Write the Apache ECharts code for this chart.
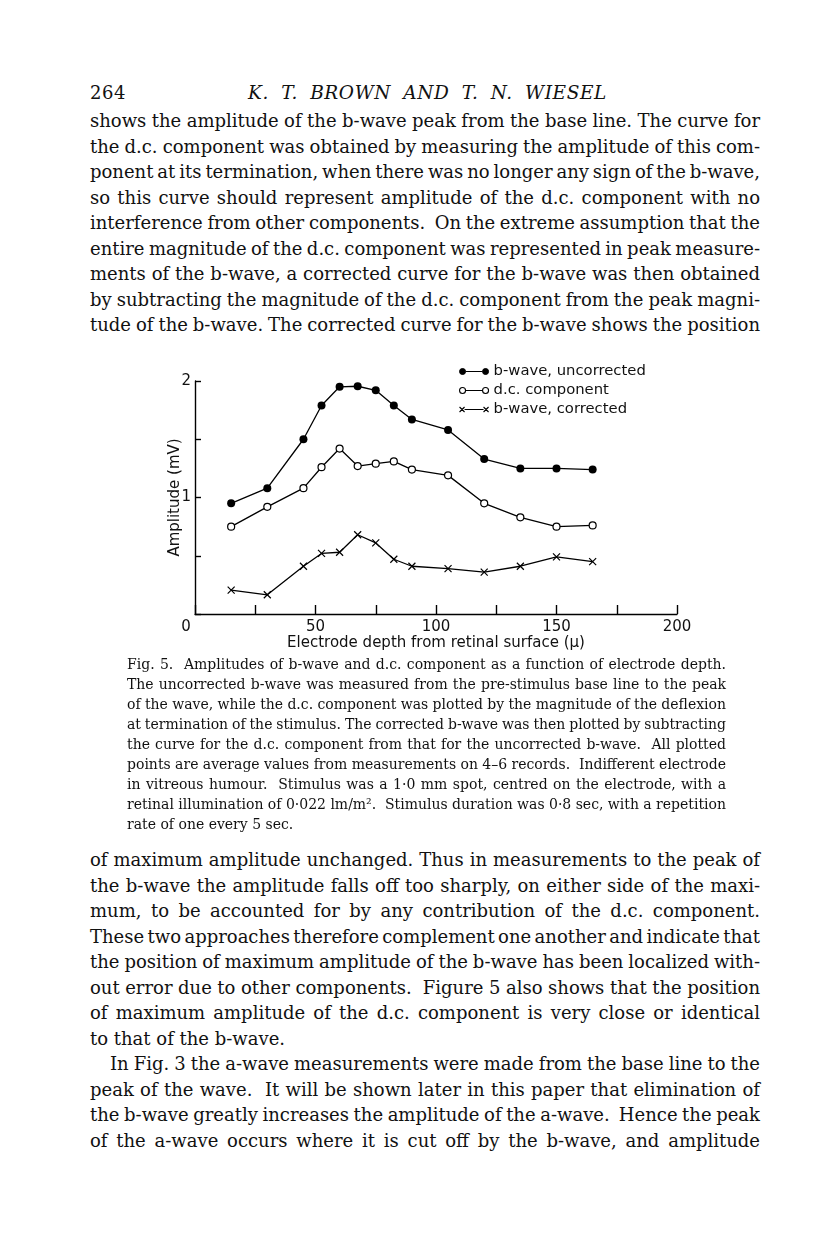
<!DOCTYPE html>
<html><head><meta charset="utf-8">
<script src="https://cdn.jsdelivr.net/npm/echarts@6/dist/echarts.min.js"></script>
<style>
html,body{margin:0;padding:0;background:#fff;}
#page{position:relative;width:816px;height:1248px;overflow:hidden;background:#fff;}
.ln{position:absolute;white-space:pre;color:#111;font-family:"DejaVu Serif",serif;}
#chart{position:absolute;left:0;top:340px;width:816px;height:320px;}
</style></head><body><div id="page"><div id="chart"></div></div>
<script>
// ---- chart data ----
const depth = [15, 30, 45, 52.5, 60, 67.5, 75, 82.5, 90, 105, 120, 135, 150, 165];
const bUncorrected = [0.95, 1.08, 1.50, 1.79, 1.95, 1.955, 1.92, 1.79, 1.67, 1.58, 1.33, 1.25, 1.25, 1.24];
const dcComponent = [0.75, 0.92, 1.08, 1.26, 1.42, 1.27, 1.29, 1.31, 1.24, 1.19, 0.95, 0.83, 0.75, 0.76];
const bCorrected = [0.205, 0.165, 0.41, 0.52, 0.53, 0.68, 0.61, 0.47, 0.41, 0.39, 0.36, 0.41, 0.49, 0.45];
const seriesNames = ['b-wave, uncorrected', 'd.c. component', 'b-wave, corrected'];
const xLabels = [0, 50, 100, 150, 200];
const yLabels = [1, 2];
const xTitle = 'Electrode depth from retinal surface (\u03bc)';
const yTitle = 'Amplitude (mV)';

// ---- page text ----
const headerNum = '264';
const headerTitle = 'K. T. BROWN AND T. N. WIESEL';
const topLines = [
 'shows the amplitude of the b-wave peak from the base line. The curve for',
 'the d.c. component was obtained by measuring the amplitude of this com-',
 'ponent at its termination, when there was no longer any sign of the b-wave,',
 'so this curve should represent amplitude of the d.c. component with no',
 'interference from other components.  On the extreme assumption that the',
 'entire magnitude of the d.c. component was represented in peak measure-',
 'ments of the b-wave, a corrected curve for the b-wave was then obtained',
 'by subtracting the magnitude of the d.c. component from the peak magni-',
 'tude of the b-wave. The corrected curve for the b-wave shows the position'
];
const captionLines = [
 'Fig. 5.  Amplitudes of b-wave and d.c. component as a function of electrode depth.',
 'The uncorrected b-wave was measured from the pre-stimulus base line to the peak',
 'of the wave, while the d.c. component was plotted by the magnitude of the deflexion',
 'at termination of the stimulus. The corrected b-wave was then plotted by subtracting',
 'the curve for the d.c. component from that for the uncorrected b-wave.  All plotted',
 'points are average values from measurements on 4\u20136 records.  Indifferent electrode',
 'in vitreous humour.  Stimulus was a 1\u00b70 mm spot, centred on the electrode, with a',
 'retinal illumination of 0\u00b7022 lm/m\u00b2.  Stimulus duration was 0\u00b78 sec, with a repetition',
 'rate of one every 5 sec.'
];
const bottomLines = [
 'of maximum amplitude unchanged. Thus in measurements to the peak of',
 'the b-wave the amplitude falls off too sharply, on either side of the maxi-',
 'mum, to be accounted for by any contribution of the d.c. component.',
 'These two approaches therefore complement one another and indicate that',
 'the position of maximum amplitude of the b-wave has been localized with-',
 'out error due to other components.  Figure 5 also shows that the position',
 'of maximum amplitude of the d.c. component is very close or identical',
 'to that of the b-wave.',
 'In Fig. 3 the a-wave measurements were made from the base line to the',
 'peak of the wave.  It will be shown later in this paper that elimination of',
 'the b-wave greatly increases the amplitude of the a-wave.  Hence the peak',
 'of the a-wave occurs where it is cut off by the b-wave, and amplitude'
];

const page = document.getElementById('page');
function place(text, x, yc, w, size, lh, italic, ls){
  const d = document.createElement('div');
  d.className = 'ln';
  d.textContent = text;
  d.style.left = x + 'px';
  d.style.top = (yc - lh / 2) + 'px';
  d.style.fontSize = size + 'px';
  d.style.lineHeight = lh + 'px';
  if (italic) d.style.fontStyle = 'italic';
  if (ls) d.style.letterSpacing = ls + 'px';
  page.appendChild(d);
  if (w) {
    const nat = d.getBoundingClientRect().width;
    const sp = (text.match(/ /g) || []).length;
    if (sp) d.style.wordSpacing = ((w - nat) / sp) + 'px';
  }
}
const BL = 90, BW = 670;
place(headerNum, BL, 93, 0, 18, 22, false, 0.5);
place(headerTitle, 248, 93, 359, 18.5, 22, true, 0.6);
topLines.forEach((t, i) => place(t, BL, 121 + 25.5 * i, BW, 18, 24, false));
captionLines.forEach((t, i) => place(t, 127, 664 + 20 * i, i === captionLines.length - 1 ? 0 : 599, 14, 19, false));
bottomLines.forEach((t, i) => {
  const indent = (i === 8) ? 20 : 0;
  const justify = !(i === 7);
  place(t, BL + indent, 860 + 25.5 * i, justify ? BW - indent : 0, 18, 24, false);
});

// ---- chart ----
const FONT = 'DejaVu Sans';
const chart = echarts.init(document.getElementById('chart'), null, {renderer: 'canvas'});
const circlePath = 'path://M0,3.5A3,3 0 1,0 6,3.5A3,3 0 1,0 0,3.5ZM6,3.5L23,3.5M23,3.5A3,3 0 1,0 29,3.5A3,3 0 1,0 23,3.5Z';
const crossPath = 'path://M0,1L5,6M5,1L0,6M5,3.5L24,3.5M24,1L29,6M29,1L24,6';
const mk = arr => depth.map((d, i) => [d, arr[i]]);
const lineStyle = {color: '#000', width: 1.3};
chart.setOption({
  animation: false,
  grid: {left: 195, right: 139, top: 41, bottom: 46},
  legend: {
    orient: 'vertical', left: 454, top: 18, itemWidth: 29, itemHeight: 7, itemGap: 2,
    selectedMode: false,
    textStyle: {fontFamily: FONT, fontSize: 14.8, color: '#111', lineHeight: 17},
    data: [
      {name: seriesNames[0], icon: circlePath, itemStyle: {color: '#000', borderColor: '#000', borderWidth: 1}},
      {name: seriesNames[1], icon: circlePath, itemStyle: {color: '#fff', borderColor: '#000', borderWidth: 1.1}},
      {name: seriesNames[2], icon: crossPath, itemStyle: {color: '#000', borderColor: '#000', borderWidth: 1.1}}
    ]
  },
  xAxis: {
    type: 'value', min: 0, max: 200, interval: 25,
    axisLine: {lineStyle: {color: '#000', width: 1.4}},
    axisTick: {inside: true, length: 9, lineStyle: {color: '#000', width: 1.4}},
    splitLine: {show: false},
    axisLabel: {
      color: '#111', fontFamily: FONT, fontSize: 15, margin: 6,
      formatter: v => xLabels.indexOf(v) < 0 ? '' : (v === 0 ? '{z|0}' : String(v)),
      rich: {z: {fontFamily: FONT, fontSize: 15, color: '#111', padding: [0, 18, 0, 0]}}
    },
    name: xTitle, nameLocation: 'middle', nameGap: 22, nameMoveOverlap: false,
    nameTextStyle: {fontFamily: FONT, fontSize: 15, color: '#111'}
  },
  yAxis: {
    type: 'value', min: 0, max: 2, interval: 0.5,
    axisLine: {show: true, lineStyle: {color: '#000', width: 1.4}},
    axisTick: {show: true, inside: true, length: 6, lineStyle: {color: '#000', width: 1.4}},
    splitLine: {show: false},
    axisLabel: {
      color: '#111', fontFamily: FONT, fontSize: 15, margin: 4,
      formatter: v => yLabels.indexOf(v) < 0 ? '' : String(v)
    },
    name: yTitle, nameLocation: 'middle', nameGap: 12, nameRotate: 90, nameMoveOverlap: false,
    nameTextStyle: {fontFamily: FONT, fontSize: 15, color: '#111'}
  },
  series: [
    {type: 'line', name: seriesNames[0], data: mk(bUncorrected), symbol: 'circle', symbolSize: 8,
     lineStyle: lineStyle, itemStyle: {color: '#000'}, emphasis: {disabled: true}, z: 3},
    {type: 'line', name: seriesNames[1], data: mk(dcComponent), symbol: 'circle', symbolSize: 7,
     lineStyle: lineStyle, itemStyle: {color: '#fff', borderColor: '#000', borderWidth: 1.2}, emphasis: {disabled: true}, z: 3},
    {type: 'line', name: seriesNames[2], data: mk(bCorrected), symbol: 'path://M0,0L10,10M10,0L0,10', symbolSize: 7,
     lineStyle: lineStyle, itemStyle: {color: '#000', borderColor: '#000', borderWidth: 1.2}, emphasis: {disabled: true}, z: 3}
  ]
});
</script>
</body></html>
